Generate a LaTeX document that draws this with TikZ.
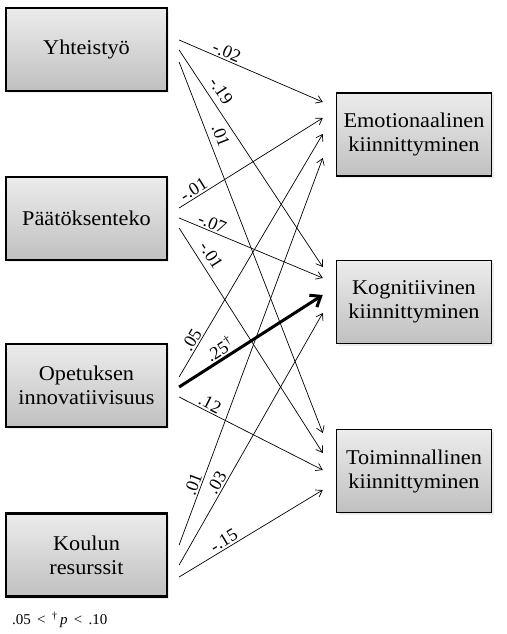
\documentclass[tikz,border=0pt]{standalone}
\usepackage{fontspec}
\setmainfont{Liberation Serif}
\newfontfamily\boxfont[FakeStretch=1.06]{Liberation Serif}
\usetikzlibrary{arrows.meta,calc,shadows}
\definecolor{boxtop}{RGB}{236,236,236}
\definecolor{boxbot}{RGB}{192,192,192}
\tikzset{
  box/.style={draw=black, top color=boxtop, bottom color=boxbot, align=center,
    font=\boxfont\fontsize{21}{24}\selectfont, inner sep=2pt,
    drop shadow={opacity=0.15, shadow xshift=2pt, shadow yshift=-2pt}},
  lbox/.style={box, line width=2.2pt, minimum width=161pt, minimum height=83pt},
  rbox/.style={box, line width=1.5pt, minimum width=155pt, minimum height=83pt},
  conn/.style={line width=0.7pt, -{Straight Barb[length=6pt,width=8pt]}},
  boldconn/.style={line width=3pt, -{Straight Barb[length=9pt,width=14pt]}},
  lab/.style={font=\fontsize{18}{18}\selectfont, sloped, above=0.5pt, inner sep=1pt},
  labfar/.style={lab, above=4.5pt},
  note/.style={font=\fontsize{15}{17}\selectfont, inner sep=0pt, anchor=west}
}
\begin{document}
\begin{tikzpicture}[x=1pt,y=-1pt]
\useasboundingbox (0,0) rectangle (506,634);
% left boxes
\node[lbox] (yht) at (86.5,49.5) {Yhteistyö};
\node[lbox] (paat) at (86.5,218.5) {Päätöksenteko};
\node[lbox] (opet) at (86.5,385.5) {Opetuksen\\innovatiivisuus};
\node[lbox] (koul) at (86.5,555) {Koulun\\resurssit};
% right boxes
\node[rbox] (emo) at (414,134.5) {Emotionaalinen\\kiinnittyminen};
\node[rbox] (kog) at (414,302) {Kognitiivinen\\kiinnittyminen};
\node[rbox] (toi) at (414,471) {Toiminnallinen\\kiinnittyminen};
% start coordinates
\coordinate (y1) at ($(yht.east)+(11,-9.5)$);
\coordinate (y2) at ($(yht.east)+(11,0.5)$);
\coordinate (y3) at ($(yht.east)+(11,12.5)$);
\coordinate (p1) at ($(paat.east)+(11,-10.5)$);
\coordinate (p2) at ($(paat.east)+(11,-0.5)$);
\coordinate (p3) at ($(paat.east)+(11,9.5)$);
\coordinate (o1) at ($(opet.east)+(11,-8.5)$);
\coordinate (o2) at ($(opet.east)+(11,1.5)$);
\coordinate (o3) at ($(opet.east)+(11,11.5)$);
\coordinate (k1) at ($(koul.east)+(11,-10)$);
\coordinate (k2) at ($(koul.east)+(11,10)$);
\coordinate (k3) at ($(koul.east)+(11,22)$);
% end coordinates
\coordinate (e1) at ($(emo.west)+(-13,-32.5)$);
\coordinate (e2) at ($(emo.west)+(-13,-16.5)$);
\coordinate (e3) at ($(emo.west)+(-13,-0.5)$);
\coordinate (e4) at ($(emo.west)+(-13,23.5)$);
\coordinate (g1) at ($(kog.west)+(-13,-35)$);
\coordinate (g2) at ($(kog.west)+(-13,-24)$);
\coordinate (g3) at ($(kog.west)+(-13,-7)$);
\coordinate (g4) at ($(kog.west)+(-13,11)$);
\coordinate (t1) at ($(toi.west)+(-13,-38)$);
\coordinate (t2) at ($(toi.west)+(-13,-18)$);
\coordinate (t3) at ($(toi.west)+(-13,-1)$);
\coordinate (t4) at ($(toi.west)+(-13,19)$);
% connectors
\draw[conn] (y1) -- node[lab, pos=0.31] {-.02} (e1);
\draw[conn] (y2) -- node[labfar, pos=0.22] {-.19} (g1);
\draw[conn] (y3) -- node[labfar, pos=0.21] {.01} (t1);
\draw[conn] (p1) -- node[lab, pos=0.13] {-.01} (e2);
\draw[conn] (p2) -- node[lab, pos=0.21] {-.07} (g2);
\draw[conn] (p3) -- node[labfar, pos=0.15] {-.01} (t2);
\draw[conn] (o1) -- node[lab, pos=0.135] {.05} (e3);
\draw[boldconn] (o2) -- node[lab, pos=0.32] {.25\textsuperscript{†}} (g3);
\draw[conn] (o3) -- node[lab, pos=0.19] {.12} (t3);
\draw[conn] (k1) -- node[lab, pos=0.15] {.01} (e4);
\draw[conn] (k2) -- node[lab, pos=0.31] {.03} (g4);
\draw[conn] (k3) -- node[lab, pos=0.34] {-.15} (t4);
% footnote
\node[note] (fn) at (12,620) {.05 \,<\, \textsuperscript{†}\,\textit{p} \,<\, .10};
\end{tikzpicture}
\end{document}
